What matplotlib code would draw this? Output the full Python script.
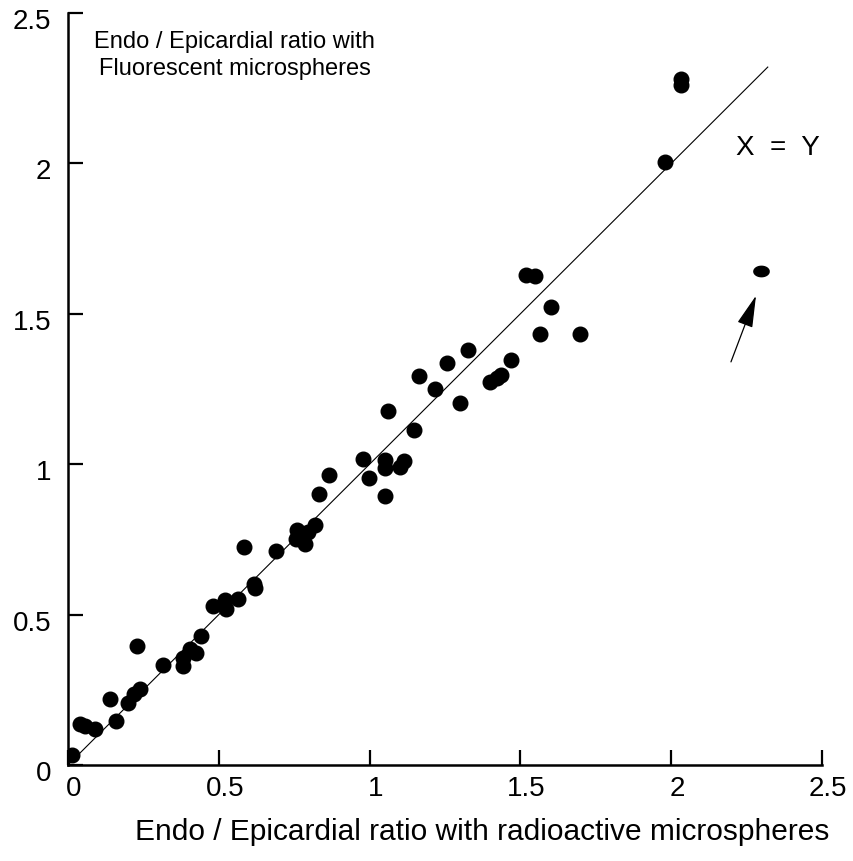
import numpy as np
import matplotlib
matplotlib.use("Agg")
import matplotlib.pyplot as plt
from matplotlib.transforms import ScaledTranslation

plt.rcParams['font.family'] = ['Liberation Sans', 'DejaVu Sans']

# radioactive (x) vs fluorescent (y) endo/epi ratios
radio = [0.013, 0.04, 0.056, 0.09, 0.14, 0.16, 0.20, 0.22, 0.239, 0.229,
         0.315, 0.38, 0.38, 0.405, 0.424, 0.44, 0.481, 0.52, 0.524, 0.564,
         0.617, 0.62, 0.584, 0.69, 0.76, 0.756, 0.786, 0.796, 0.819, 0.832,
         0.865, 0.978, 0.998, 1.051, 1.051, 1.051, 1.10, 1.114, 1.061, 1.147,
         1.217, 1.30, 1.164, 1.257, 1.326, 1.40, 1.422, 1.436, 1.469, 1.519,
         1.548, 1.60, 1.565, 1.698, 2.032, 2.032, 1.979]
fluor = [0.033, 0.137, 0.13, 0.12, 0.22, 0.147, 0.207, 0.237, 0.253, 0.397,
         0.333, 0.357, 0.33, 0.387, 0.373, 0.43, 0.53, 0.547, 0.517, 0.553,
         0.603, 0.59, 0.723, 0.713, 0.78, 0.75, 0.733, 0.773, 0.797, 0.90,
         0.963, 1.017, 0.953, 1.013, 0.987, 0.893, 0.99, 1.01, 1.177, 1.113,
         1.25, 1.203, 1.293, 1.337, 1.38, 1.273, 1.287, 1.297, 1.347, 1.63,
         1.627, 1.523, 1.433, 1.433, 2.26, 2.28, 2.003]

# the flagged outlier
outlier_x = [2.298]
outlier_y = [1.643]

identity_end = 2.32
ticks = [0, 0.5, 1, 1.5, 2, 2.5]
tick_labels = ['0', '0.5', '1', '1.5', '2', '2.5']

fig = plt.figure(figsize=(8.54, 8.61), dpi=100)
ax = fig.add_axes([0.0796, 0.1115, 0.883, 0.8735])

ax.plot([0, identity_end], [0, identity_end], color='black', lw=0.8, zorder=1)
ax.plot(radio, fluor, 'o', color='black', ms=10.5, mec='black', zorder=3)

t = np.linspace(0, 2 * np.pi, 40)
ellipse = np.column_stack([np.cos(t), 0.68 * np.sin(t)])
ax.plot(outlier_x, outlier_y, marker=ellipse, ls='none', color='black', ms=11, zorder=3)

ax.annotate('', xy=(2.281, 1.56), xytext=(2.198, 1.34),
            arrowprops=dict(arrowstyle='-|>,head_length=1.0,head_width=0.25',
                            mutation_scale=20, color='black', lw=0.9,
                            shrinkA=0, shrinkB=0))

ax.text(2.354, 2.05, 'X  =  Y', fontsize=20, ha='center', va='center')
ax.text(0.553, 2.357, 'Endo / Epicardial ratio with\nFluorescent microspheres',
        fontsize=17, ha='center', va='center', linespacing=1.3)

ax.set_xlim(0, 2.5)
ax.set_ylim(0, 2.5)
ax.set_xticks(ticks)
ax.set_xticklabels(tick_labels)
ax.set_yticks(ticks)
ax.set_yticklabels(tick_labels)

for side in ['top', 'right']:
    ax.spines[side].set_visible(False)
for side in ['left', 'bottom']:
    ax.spines[side].set_linewidth(1.8)

ax.tick_params(direction='in', length=11, width=1.6, labelsize=20)
ax.tick_params(axis='x', pad=8)
ax.tick_params(axis='y', pad=12)

for lab in ax.get_xticklabels():
    lab.set_transform(lab.get_transform() + ScaledTranslation(6 / 100, 0, fig.dpi_scale_trans))
for lab in ax.get_yticklabels():
    lab.set_transform(lab.get_transform() + ScaledTranslation(0, -6 / 100, fig.dpi_scale_trans))

ax.set_xlabel('Endo / Epicardial ratio with radioactive microspheres', fontsize=21.5, va='center')
ax.xaxis.set_label_coords(0.549, -0.089)

fig.savefig('out.png', dpi=100)
